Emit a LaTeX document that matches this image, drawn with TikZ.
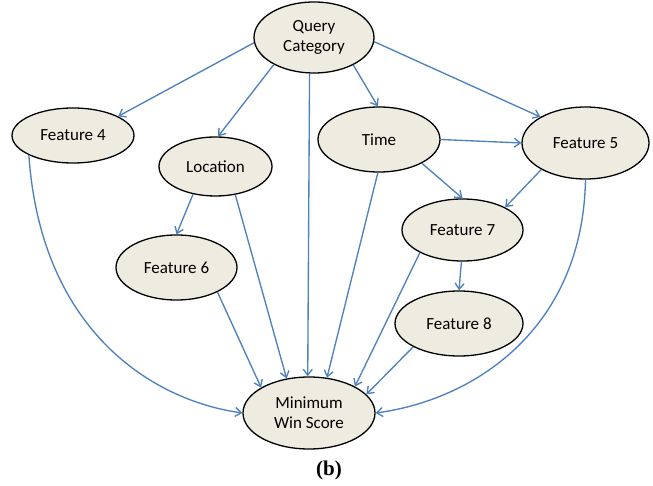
\documentclass[tikz,border=0pt]{standalone}
\usepackage{fontspec}
\setmainfont{Carlito}
\newfontfamily\labfont{Liberation Serif}
\usetikzlibrary{shapes.geometric,arrows.meta}
\definecolor{nodefill}{RGB}{238,236,225}
\definecolor{arrowblue}{RGB}{79,129,189}
\tikzset{
  ebox/.style={ellipse, draw=black, line width=1.3pt, fill=nodefill, inner sep=0pt,
    align=center, font=\fontsize{17}{20}\selectfont},
  arr/.style={draw=arrowblue, line width=1.35pt, -{Straight Barb[length=6pt,width=9pt]}}
}
\begin{document}
\begin{tikzpicture}[x=1pt,y=-1pt]
\useasboundingbox (0,0) rectangle (653,486);
\node[ebox, minimum width=120pt, minimum height=71pt] (qc) at (314,37.5) {Query\\Category};
\node[ebox, minimum width=122pt, minimum height=55pt] (f4) at (73,135.5) {Feature 4};
\node[ebox, minimum width=113pt, minimum height=59pt] (loc) at (215.5,166.5) {Location};
\node[ebox, minimum width=122pt, minimum height=65pt] (time) at (379,139.5) {Time};
\node[ebox, minimum width=127pt, minimum height=72pt] (f5) at (585.5,143) {Feature 5};
\node[ebox, minimum width=121pt, minimum height=62pt] (f7) at (462.5,230) {Feature 7};
\node[ebox, minimum width=121pt, minimum height=65pt] (f6) at (176.5,267.5) {Feature 6};
\node[ebox, minimum width=128pt, minimum height=65pt] (f8) at (459,323.5) {Feature 8};
\node[ebox, minimum width=132pt, minimum height=72pt] (mws) at (309,413) {Minimum\\Win Score};
\node[font=\labfont\bfseries\fontsize{21}{24}\selectfont] (lab) at (329,470) {(b)};

\draw[arr] (qc.185) -- (f4.23);
\draw[arr] (qc.214) -- (loc.85);
\draw[arr] (qc.263) -- (mws.92);
\draw[arr] (qc.325) -- (time.92);
\draw[arr] (qc.356) -- (f5.150);
\draw[arr] (f4.204) .. controls +(12,174) and +(-92,-13) .. (mws.180);
\draw[arr] (loc.231) -- (f6.90);
\draw[arr] (loc.305) -- (mws.123);
\draw[arr] (f6.329) -- (mws.152);
\draw[arr] (time.0) -- (f5.180);
\draw[arr] (time.331) -- (f7.90);
\draw[arr] (time.268) -- (mws.63);
\draw[arr] (f5.211) -- (f7.28);
\draw[arr] (f5.270) .. controls +(-3,151) and +(97,-13) .. (mws.0);
\draw[arr] (f7.268) -- (f8.90);
\draw[arr] (f7.208) -- (mws.30);
\draw[arr] (f8.207) -- (mws.18);
\end{tikzpicture}
\end{document}
